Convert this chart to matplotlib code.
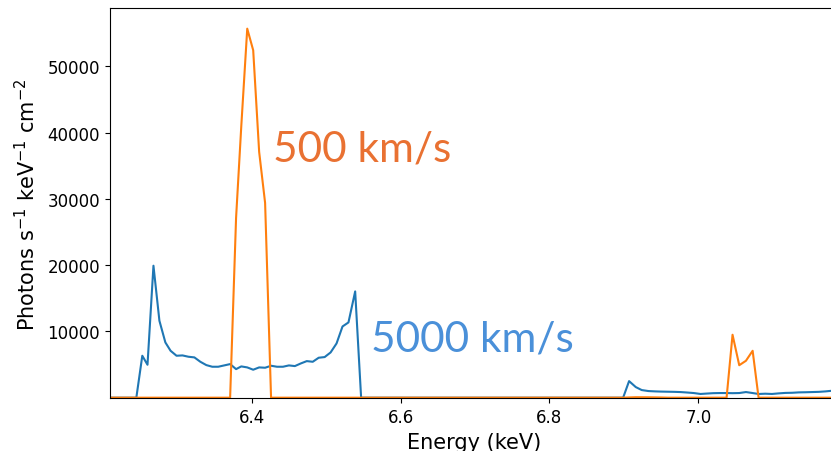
import matplotlib
matplotlib.use('Agg')
import matplotlib.pyplot as plt

# 5000 km/s spectrum (vertices)
e_5000 = [6.209, 6.245, 6.253, 6.260, 6.268, 6.276, 6.284, 6.291, 6.299, 6.307,
          6.315, 6.323, 6.331, 6.339, 6.347, 6.355, 6.363, 6.371, 6.379, 6.386,
          6.394, 6.402, 6.410, 6.418, 6.426, 6.434, 6.442, 6.450, 6.458, 6.466,
          6.474, 6.482, 6.490, 6.498, 6.506, 6.514, 6.522, 6.530, 6.539, 6.547,
          6.899, 6.907, 6.916, 6.924, 6.933, 6.942, 6.950, 6.959, 6.968, 6.976,
          6.985, 6.994, 7.003, 7.011, 7.020, 7.029, 7.038, 7.046, 7.055, 7.064,
          7.073, 7.081, 7.090, 7.099, 7.108, 7.117, 7.126, 7.135, 7.144, 7.153,
          7.162, 7.171, 7.180, 7.189]
f_5000 = [0, 0, 6330, 4970, 19920, 11610, 8340, 7080, 6330, 6380,
          6180, 6080, 5420, 4920, 4670, 4670, 4870, 5070, 4310, 4720,
          4570, 4220, 4570, 4520, 4820, 4670, 4670, 4870, 4770, 5170,
          5520, 5420, 6030, 6130, 6830, 8190, 10750, 11360, 16040, 0,
          0, 2500, 1600, 1150, 1000, 950, 920, 900, 880, 850,
          780, 700, 560, 620, 680, 700, 700, 680, 700, 850,
          700, 560, 600, 560, 650, 720, 740, 800, 820, 850,
          880, 950, 1050, 1100]

# 500 km/s spectrum
e_500 = [6.209, 6.371, 6.379, 6.386, 6.394, 6.402, 6.410, 6.418, 6.426,
         6.899, 6.908, 6.916, 6.933, 6.950, 6.959,
         7.029, 7.038, 7.046, 7.055, 7.064, 7.073, 7.081, 7.189]
f_500 = [0, 0, 27150, 41000, 55700, 52440, 37100, 29400, 0,
         0, 40, 70, 60, 30, 0,
         0, 0, 9500, 4900, 5570, 7080, 0, 0]

y_ticks = [10000, 20000, 30000, 40000, 50000]

fig = plt.figure(figsize=(8.31, 4.52), dpi=100)
ax = fig.add_axes([0.132, 0.1162, 0.8776, 0.8633])
ax.plot(e_5000, f_5000)
ax.plot(e_500, f_500)
ax.set_xlim(6.2092, 7.189)
ax.set_ylim(-120, 58780)
ax.set_yticks(y_ticks)
ax.tick_params(labelsize=12)
ax.set_xlabel('Energy (keV)', fontsize=15)
ax.set_ylabel('Photons s$^{-1}$ keV$^{-1}$ cm$^{-2}$', fontsize=15, labelpad=6)

# labels pasted on top of the plot
fig.text(273 / 831, 1 - 162 / 452, '500 km/s', color='#E97132',
         fontsize=30.5, family=['Lato', 'DejaVu Sans'], va='baseline')
fig.text(371 / 831, 1 - 352 / 452, '5000 km/s', color='#4A90D9',
         fontsize=30.5, family=['Lato', 'DejaVu Sans'], va='baseline')

fig.savefig('out.png', dpi=100)
